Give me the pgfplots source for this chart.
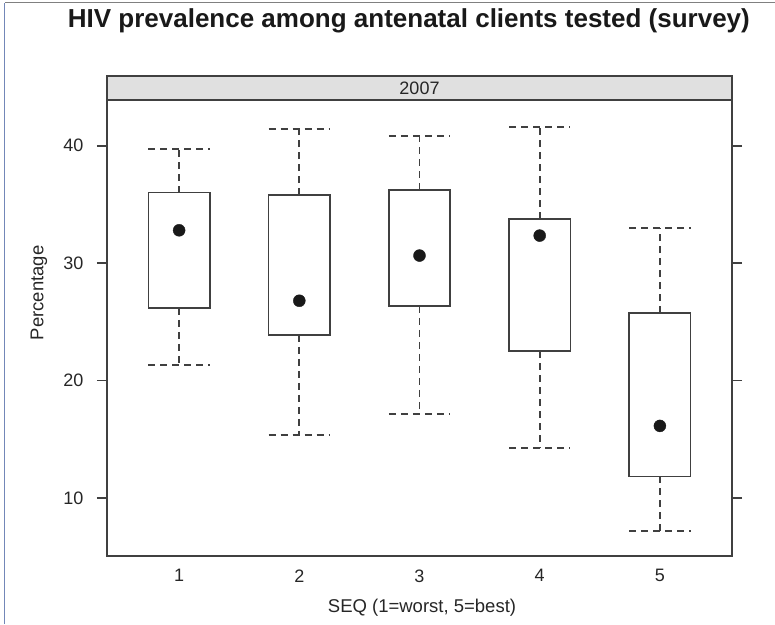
\documentclass[border=0pt]{standalone}
\usepackage{pgfplots}
\pgfplotsset{compat=1.18}
\usepgfplotslibrary{statistics}
\usepackage{fontspec}
\setmainfont{Liberation Sans}
\definecolor{ln}{gray}{0.25}
\definecolor{stripgray}{gray}{0.88}
\definecolor{frameblue}{rgb}{0.45,0.53,0.72}
\begin{document}
\begin{tikzpicture}
\path[use as bounding box] (-107pt,-68pt) rectangle (668pt,556pt);
\draw[line width=1pt, frameblue] (-102pt,-68pt) -- (-102pt,553pt);
\draw[line width=1pt, gray] (-102pt,553pt) -- (668pt,553pt);
\begin{axis}[
  at={(0,0)}, anchor=south west, scale only axis,
  width=625pt, height=456pt,
  xmin=0.4, xmax=5.6, ymin=5.06, ymax=43.9,
  xtick={1,2,3,4,5}, ytick={10,20,30,40},
  ytick pos=both, yticklabel pos=left,
  tick align=outside, major tick length=10pt,
  x tick style={draw=none},
  y tick style={ln, line width=1.5pt},
  axis line style={ln, line width=1.5pt},
  ticklabel style={font=\fontsize{18}{21}\selectfont, text=black!85},
  yticklabel style={xshift=-10pt},
  /pgf/number format/assume math mode=true,
  boxplot/draw direction=y,
  boxplot/box extend=0.51,
  boxplot/whisker extend=0.51,
  boxplot/every median/.style={draw=none},
  boxplot/every whisker/.style={line width=1.8pt, dash pattern=on 7pt off 5pt},
  title={HIV prevalence among antenatal clients tested (survey)},
  title style={at={(axis description cs:0.483,1.160)}, anchor=center, font=\bfseries\fontsize{26}{30}\selectfont, text=black!90},
  xlabel={SEQ (1=worst, 5=best)},
  xlabel style={at={(axis description cs:0.504,-0.114)}, anchor=center, font=\fontsize{18.5}{22}\selectfont, text=black!85},
  ylabel={Percentage},
  ylabel style={at={(axis description cs:-0.109,0.577)}, anchor=center, font=\fontsize{18.5}{22}\selectfont, text=black!85},
]
\addplot[draw=ln, line width=1.5pt, boxplot prepared={draw position=1, lower whisker=21.33, lower quartile=26.2, median=32.8, upper quartile=36.0, upper whisker=39.7}] coordinates {};
\addplot[draw=ln, line width=1.5pt, boxplot prepared={draw position=2, lower whisker=15.34, lower quartile=23.9, median=26.8, upper quartile=35.8, upper whisker=41.45}] coordinates {};
\addplot[draw=ln, line width=1.5pt, boxplot prepared={draw position=3, lower whisker=17.16, lower quartile=26.36, median=30.65, upper quartile=36.25, upper whisker=40.85}] coordinates {};
\addplot[draw=ln, line width=1.5pt, boxplot prepared={draw position=4, lower whisker=14.26, lower quartile=22.5, median=32.35, upper quartile=33.78, upper whisker=41.6}] coordinates {};
\addplot[draw=ln, line width=1.5pt, boxplot prepared={draw position=5, lower whisker=7.19, lower quartile=11.85, median=16.14, upper quartile=25.74, upper whisker=33.0}] coordinates {};
\addplot[only marks, mark=*, mark size=6pt, black!90] coordinates {(1,32.8) (2,26.8) (3,30.65) (4,32.35) (5,16.14)};
\end{axis}
\draw[ln, line width=1.5pt, fill=stripgray] (0,456pt) rectangle (625pt,480pt);
\node[font=\fontsize{18}{21}\selectfont, text=black!85] at (312.5pt,468pt) {2007};
\end{tikzpicture}
\end{document}
